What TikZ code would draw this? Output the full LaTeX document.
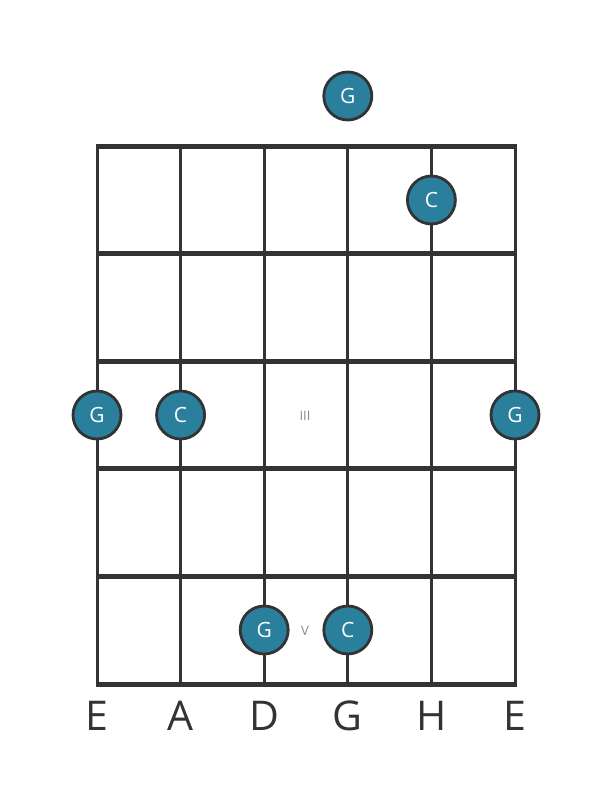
\documentclass[tikz,border=0pt]{standalone}
\usepackage{fontspec}
\setmainfont{Open Sans}
\definecolor{teal1}{HTML}{2A7F9C}
\definecolor{line1}{HTML}{333333}
\definecolor{gray1}{HTML}{888888}
\begin{document}
\begin{tikzpicture}[x=1pt,y=-1pt,
  fret/.style={line1,line width=5pt},
  str/.style={line1,line width=3pt},
  note/.style={circle,draw=line1,line width=2.8pt,fill=teal1,minimum size=48pt,inner sep=0pt,text=white,font=\fontsize{21}{21}\selectfont},
  strlabel/.style={text=line1,font=\fontsize{41}{41}\selectfont,inner sep=0pt},
  fretnum/.style={text=gray1,font=\fontsize{13}{13}\selectfont,inner sep=0pt}]
\useasboundingbox (0,0) rectangle (611,801);
\foreach \i/\x in {1/97,2/180.6,3/264.2,4/347.8,5/431.4,6/515}{
  \coordinate (t\i) at (\x,146);
  \coordinate (b\i) at (\x,684);
  \draw[str] (t\i) -- (b\i);
}
\foreach \j/\y in {0/146,1/253.6,2/361.2,3/468.8,4/576.4,5/684}{
  \coordinate (l\j) at (97,\y);
  \coordinate (r\j) at (515,\y);
  \draw[fret] ([xshift=-1.5pt]l\j) -- ([xshift=1.5pt]r\j);
}
\node[fretnum] (p3) at (305,416) {III};
\node[fretnum] (p5) at (305,631) {V};
\node[note] (n1) at (347.8,96) {G};
\node[note] (n2) at (431.4,200) {C};
\node[note] (n3) at (97,415) {G};
\node[note] (n4) at (180.6,415) {C};
\node[note] (n5) at (515,415) {G};
\node[note] (n6) at (264.2,630) {G};
\node[note] (n7) at (347.8,630) {C};
\foreach \i/\s in {1/E,2/A,3/D,4/G,5/H,6/E}{
  \node[strlabel,anchor=base] (s\i) at ([yshift=-46pt]b\i) {\s};
}
\end{tikzpicture}
\end{document}
